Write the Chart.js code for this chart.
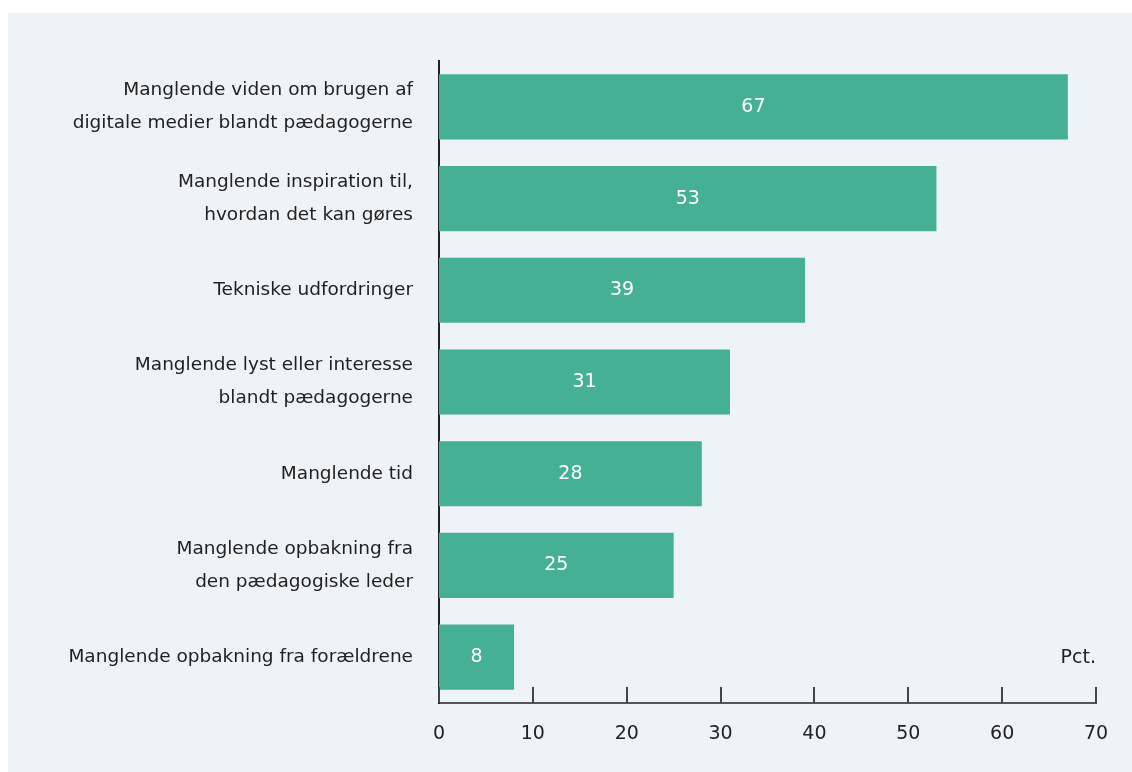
<!DOCTYPE html>
<html>
<head>
<meta charset="utf-8">
<script src="https://cdn.jsdelivr.net/npm/chart.js@4/dist/chart.umd.min.js"></script>
<style>
  html, body { margin: 0; padding: 0; background: #ffffff; }
  #panel {
    position: absolute; left: 8px; top: 13px; width: 1124px; height: 759px;
    background: #eef3f8;
  }
</style>
</head>
<body>
<div id="panel"><canvas id="chart" width="1124" height="759"></canvas></div>
<script>
const categories = [
  ["Manglende viden om brugen af", "digitale medier blandt pædagogerne"],
  ["Manglende inspiration til,", "hvordan det kan gøres"],
  "Tekniske udfordringer",
  ["Manglende lyst eller interesse", "blandt pædagogerne"],
  "Manglende tid",
  ["Manglende opbakning fra", "den pædagogiske leder"],
  "Manglende opbakning fra forældrene",
];
const values = [67, 53, 39, 31, 28, 25, 8];
const xTicks = [0, 10, 20, 30, 40, 50, 60, 70];
const unitLabel = "Pct.";

const FONT = "'DejaVu Sans', sans-serif";
const TEXT = "#222222";

// white value labels in the middle of each bar, inward x ticks, unit text
const overlay = {
  id: "overlay",
  afterDatasetsDraw(chart) {
    const ctx = chart.ctx;
    const meta = chart.getDatasetMeta(0);
    ctx.save();
    ctx.fillStyle = "#ffffff";
    ctx.font = "19px " + FONT;
    ctx.textAlign = "center";
    ctx.textBaseline = "middle";
    meta.data.forEach((bar, i) => {
      ctx.fillText(String(values[i]), (bar.x + bar.base) / 2, bar.y);
    });
    ctx.restore();
  },
  afterDraw(chart) {
    const ctx = chart.ctx;
    const x = chart.scales.x;
    const area = chart.chartArea;
    ctx.save();
    ctx.strokeStyle = "#444444";
    ctx.lineWidth = 2;
    xTicks.forEach(v => {
      const px = Math.round(x.getPixelForValue(v));
      ctx.beginPath();
      ctx.moveTo(px, area.bottom);
      ctx.lineTo(px, area.bottom - 16);
      ctx.stroke();
    });
    ctx.fillStyle = TEXT;
    ctx.font = "19px " + FONT;
    ctx.textAlign = "right";
    ctx.textBaseline = "middle";
    ctx.fillText(unitLabel, area.right, area.bottom - 45);
    ctx.restore();
  },
};

new Chart(document.getElementById("chart"), {
  type: "bar",
  data: {
    labels: categories,
    datasets: [{
      data: values,
      backgroundColor: "#45b094",
      borderWidth: 0,
      barPercentage: 0.71,
      categoryPercentage: 1,
    }],
  },
  options: {
    indexAxis: "y",
    responsive: false,
    animation: false,
    devicePixelRatio: 1,
    layout: { padding: { top: 48, right: 36, bottom: 0, left: 0 } },
    plugins: { legend: { display: false }, tooltip: { enabled: false } },
    scales: {
      x: {
        min: 0,
        max: 70,
        afterBuildTicks(scale) {
          scale.ticks = xTicks.map(v => ({ value: v }));
        },
        afterFit(scale) { scale.height = 69; },
        grid: { display: false, drawTicks: false },
        border: { display: true, color: "#555555", width: 2 },
        ticks: {
          padding: 20,
          color: TEXT,
          font: { family: FONT, size: 19 },
        },
      },
      y: {
        afterFit(scale) { scale.width = 431; },
        grid: { display: false, drawTicks: false },
        border: { display: true, color: "#222222", width: 2 },
        ticks: {
          padding: 26,
          color: TEXT,
          font: { family: FONT, size: 18.5, lineHeight: 1.78 },
        },
      },
    },
  },
  plugins: [overlay],
});
</script>
</body>
</html>
